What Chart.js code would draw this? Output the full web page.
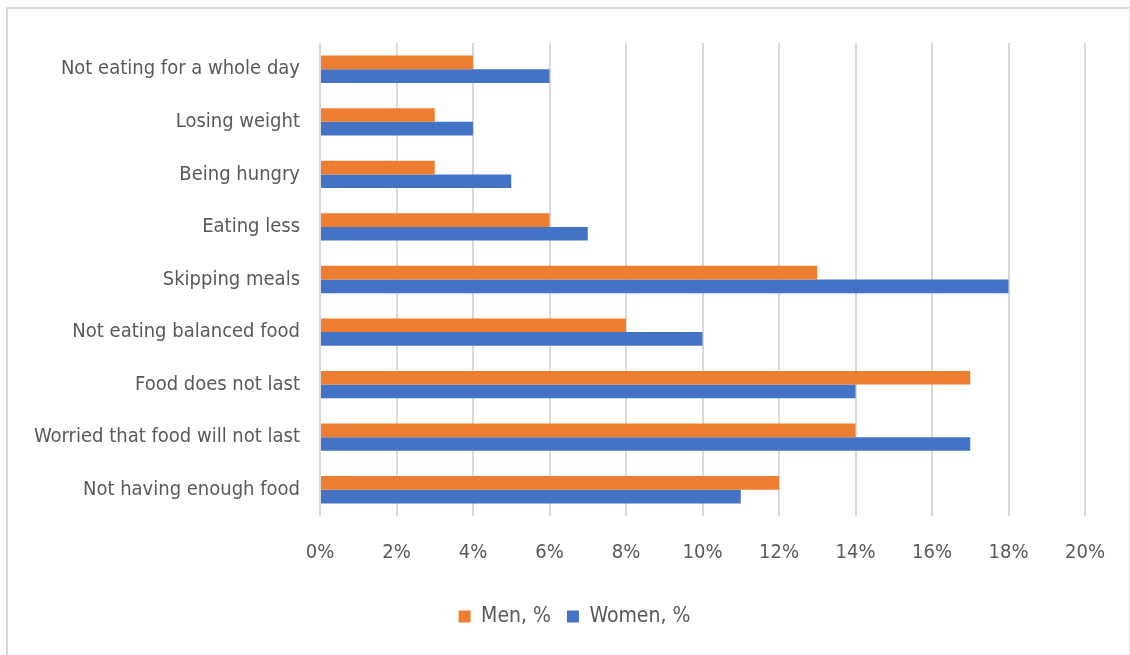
<!DOCTYPE html>
<html>
<head>
<meta charset="utf-8">
<script src="https://cdn.jsdelivr.net/npm/chart.js@4.4.0/dist/chart.umd.min.js"></script>
<style>
  html, body { margin: 0; padding: 0; background: #fff; }
  #frame {
    position: absolute; left: 6px; top: 7px; width: 1121px; height: 700px;
    border: 2px solid #d9d9d9; border-bottom: none; border-right-color: #ececec;
  }
  #wrap { position: absolute; left: 0; top: 0; width: 1130px; height: 655px; }
</style>
</head>
<body>
<div id="frame"></div>
<div id="wrap"><canvas id="myChart"></canvas></div>
<script>
'use strict';

let categories = [
  'Not eating for a whole day',
  'Losing weight',
  'Being hungry',
  'Eating less',
  'Skipping meals',
  'Not eating balanced food',
  'Food does not last',
  'Worried that food will not last',
  'Not having enough food'
];
let menValues = [4, 3, 3, 6, 13, 8, 17, 14, 12];
let womenValues = [6, 4, 5, 7, 18, 10, 14, 17, 11];
let xTicks = [0, 2, 4, 6, 8, 10, 12, 14, 16, 18, 20];

let fontFamily = "'Liberation Sans Narrow', 'DejaVu Sans Condensed', sans-serif";
let textColor = '#595959';

Chart.defaults.font.family = fontFamily;
Chart.defaults.color = textColor;

// legend sits a little right of the canvas centre, under the plot
let legendShift = {
  id: 'legendShift',
  afterLayout: function(chart) {
    chart.legend.left += 32;
    chart.legend.right += 32;
  }
};

let ctx = document.getElementById('myChart').getContext('2d');
let myChart = new Chart(ctx, {
  type: 'bar',
  data: {
    labels: categories,
    datasets: [{
      label: 'Men, %',
      data: menValues,
      backgroundColor: '#ED7D31',
      categoryPercentage: 0.52,
      barPercentage: 1
    }, {
      label: 'Women, %',
      data: womenValues,
      backgroundColor: '#4472C4',
      categoryPercentage: 0.52,
      barPercentage: 1
    }]
  },
  plugins: [legendShift],
  options: {
    indexAxis: 'y',
    responsive: true,
    maintainAspectRatio: false,
    animation: false,
    layout: { padding: { top: 43, right: 45, bottom: 18, left: 0 } },
    plugins: {
      tooltip: { enabled: false },
      legend: {
        position: 'bottom',
        labels: {
          boxWidth: 12,
          boxHeight: 12,
          padding: 16,
          font: { size: 21 },
          color: textColor
        }
      }
    },
    scales: {
      x: {
        min: 0,
        max: 20,
        afterBuildTicks: function(scale) {
          scale.ticks = xTicks.map(v => ({ value: v }));
        },
        ticks: {
          padding: 25,
          font: { size: 20 },
          color: textColor,
          callback: v => v + '%'
        },
        grid: { color: '#d9d9d9', lineWidth: 2, drawTicks: false },
        border: { display: false }
      },
      y: {
        afterFit: function(scale) { scale.width = 320; },
        ticks: {
          padding: 20,
          font: { size: 20 },
          color: textColor
        },
        grid: { display: false, drawTicks: false },
        border: { display: false }
      }
    }
  }
});
</script>
</body>
</html>
